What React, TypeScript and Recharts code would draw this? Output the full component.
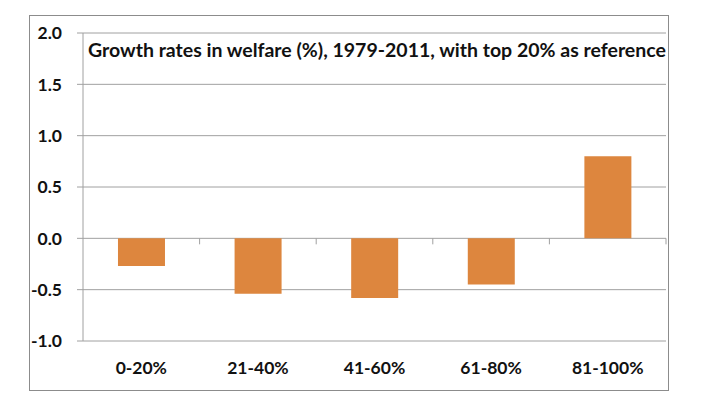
import { BarChart, Bar, XAxis, YAxis, CartesianGrid } from 'recharts';

const groups = ['0-20%', '21-40%', '41-60%', '61-80%', '81-100%'];
const growth = [-0.27, -0.54, -0.58, -0.45, 0.8];
const yTicks = [-1, -0.5, 0, 0.5, 1, 1.5, 2];

const data = groups.map((name, i) => ({ name, value: growth[i] }));

const W = 704;
const H = 406;
const PLOT_TOP = 33;
const PLOT_BOTTOM = 341;
const PLOT_LEFT = 83;
const PLOT_RIGHT = 666;
const X_AXIS_H = 30;
const ZERO_Y = PLOT_TOP + ((PLOT_BOTTOM - PLOT_TOP) * 2) / 3;
const BAND = (PLOT_RIGHT - PLOT_LEFT) / groups.length;
const FONT = 'Lato, "Open Sans", sans-serif';
const GRID = '#a0a0a0';

function CategoryTick(props: any) {
  const { x, y, payload } = props;
  const bx = x + BAND / 2;
  return (
    <g>
      <line x1={bx} y1={ZERO_Y} x2={bx} y2={ZERO_Y + 6} stroke={GRID} strokeWidth={1} />
      <text
        x={x}
        y={y + 33}
        textAnchor="middle"
        fontFamily={FONT}
        fontWeight="bold"
        fontSize={17.5}
        fill="#111"
      >
        {payload.value}
      </text>
    </g>
  );
}

export default function App() {
  return (
    <div style={{ position: 'absolute', left: 0, top: 0, width: W, height: H, background: '#fff' }}>
      <div
        style={{
          position: 'absolute',
          left: 29,
          top: 15,
          width: 638,
          height: 374,
          border: '1px solid #8c8c8c',
        }}
      />
      <div style={{ position: 'absolute', left: 0, top: 0 }}>
        <BarChart
          width={W}
          height={H}
          data={data}
          margin={{ top: PLOT_TOP, right: W - PLOT_RIGHT, bottom: H - PLOT_BOTTOM - X_AXIS_H, left: 0 }}
          barCategoryGap="30%"
        >
          <CartesianGrid vertical={false} stroke={GRID} strokeWidth={1} />
          <YAxis
            width={PLOT_LEFT}
            domain={[-1, 2]}
            ticks={yTicks}
            interval={0}
            tickFormatter={(v: number) => v.toFixed(1)}
            axisLine={{ stroke: GRID }}
            tickLine={{ stroke: GRID }}
            tickSize={6}
            tickMargin={15}
            tick={{ fill: '#111', fontFamily: FONT, fontWeight: 'bold', fontSize: 17.5 }}
          />
          <XAxis
            dataKey="name"
            height={X_AXIS_H}
            axisLine={false}
            tickLine={false}
            tickSize={0}
            tickMargin={0}
            interval={0}
            tick={<CategoryTick />}
          />
          <Bar dataKey="value" fill="#dd863e" isAnimationActive={false} />
        </BarChart>
      </div>
      <div
        style={{
          position: 'absolute',
          left: 88,
          top: 37.5,
          fontFamily: FONT,
          fontWeight: 'bold',
          fontSize: 19.5,
          color: '#111',
          whiteSpace: 'nowrap',
          lineHeight: '24px',
        }}
      >
        Growth rates in welfare (%), 1979-2011, with top 20% as reference
      </div>
    </div>
  );
}
